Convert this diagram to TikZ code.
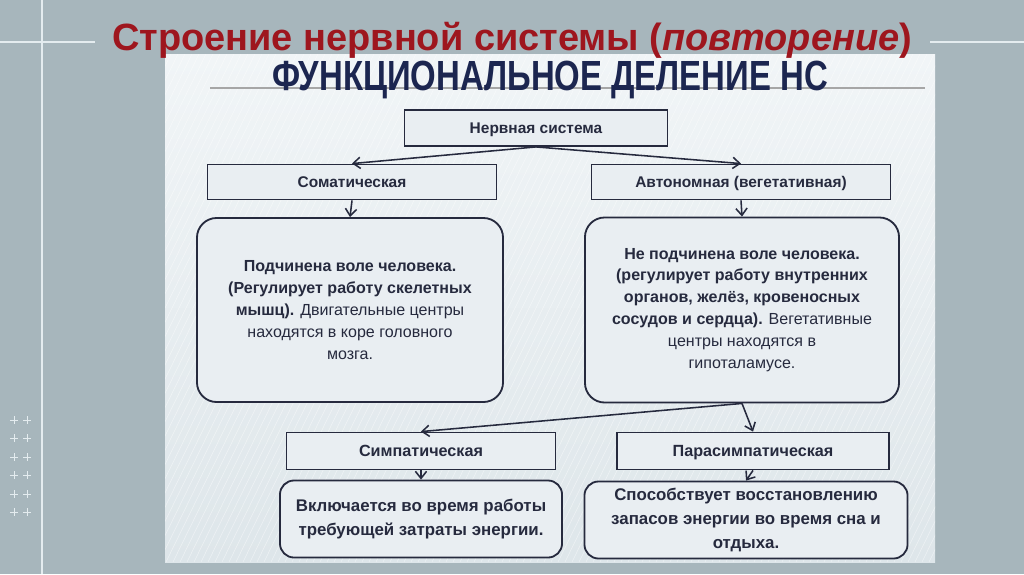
\documentclass[tikz,border=0pt]{standalone}
\usepackage{fontspec}
\setmainfont{Liberation Sans}
\usepackage{tikz}
\usetikzlibrary{arrows.meta, positioning, calc}
\definecolor{slidebg}{RGB}{167, 182, 188}
\definecolor{panel}{RGB}{222, 230, 234}
\definecolor{panellite}{RGB}{241, 245, 247}
\definecolor{titlered}{RGB}{158, 22, 30}
\definecolor{navy}{RGB}{28, 38, 80}
\definecolor{ink}{RGB}{38, 42, 62}
\definecolor{boxfill}{RGB}{233, 238, 242}
\definecolor{rulewhite}{RGB}{228, 236, 239}

\begin{document}
\begin{tikzpicture}[x=0.025cm, y=-0.025cm,
  hd/.style={rectangle, draw=ink, line width=1.3pt, fill=boxfill,
    font=\fontsize{11pt}{13pt}\selectfont\bfseries, text=ink,
    minimum height=0.875cm, inner sep=2pt, text height=1.9ex, text depth=0.55ex},
  txt/.style={rectangle, rounded corners=14pt, draw=ink, line width=1.3pt,
    fill=boxfill, font=\fontsize{11.4pt}{15.6pt}\selectfont, text=ink,
    align=center, inner sep=2pt},
  arr/.style={-{Straight Barb[length=5pt, width=8pt]}, line width=1.1pt, color=ink},
  deco/.style={draw=rulewhite, line width=1.2pt}
]
\useasboundingbox (0,0) rectangle (1024,574);
\fill[slidebg] (0,0) rectangle (1024,574);
\draw[deco] (42,0) -- (42,574);
\draw[deco] (0,42) -- (95,42);
\draw[deco] (930,42) -- (1024,42);
\foreach \yy in {420,438,457,475,494,512}
  \foreach \xx in {14,27}
    \draw[deco, line width=0.7pt] (\xx-4,\yy) -- (\xx+4,\yy) (\xx,\yy-4) -- (\xx,\yy+4);

% panel
\fill[top color=panellite, bottom color=panel] (165,54) rectangle (935,562);
\begin{scope}
  \clip (165,54) rectangle (935,562);
  \foreach \i in {-300,-293,...,800}
    \draw[white, opacity=0.45, line width=0.4pt] (165+\i,562) -- (415+\i,54);
\end{scope}
\draw[gray!70, line width=0.8pt] (210,88) -- (925,88);

\node[font=\fontsize{27pt}{32pt}\selectfont\bfseries, text=titlered]
  at (512,40) (title) {Строение нервной системы (\textit{повторение})};
\node[font=\fontsize{30pt}{34pt}\selectfont\bfseries, text=navy]
  at (550,80) (sub) {\scalebox{0.78}[1]{ФУНКЦИОНАЛЬНОЕ ДЕЛЕНИЕ НС}};

\node[hd, minimum width=6.575cm, minimum height=0.9cm] at (536,128) (ns) {Нервная система};
\node[hd, minimum width=7.225cm] at (352,182) (soma) {Соматическая};
\node[hd, minimum width=7.475cm] at (741,182) (auto) {Автономная (вегетативная)};

\node[txt, minimum width=7.65cm, minimum height=4.6cm] at (350,310) (somainfo)
  {\textbf{Подчинена воле человека.}\\
   \textbf{(Регулирует работу скелетных}\\
   \textbf{мышц).} Двигательные центры\\
   находятся в коре головного\\
   мозга.};
\node[txt, minimum width=7.85cm, minimum height=4.625cm] at (742,310) (autoinfo)
  {\textbf{Не подчинена воле человека.}\\
   \textbf{(регулирует работу внутренних}\\
   \textbf{органов, желёз, кровеносных}\\
   \textbf{сосудов и сердца).} Вегетативные\\
   центры находятся в\\
   гипоталамусе.};

\node[hd, minimum width=6.725cm, minimum height=0.925cm,
      font=\fontsize{11.5pt}{13pt}\selectfont\bfseries] at (421,451) (symp) {Симпатическая};
\node[hd, minimum width=6.8cm, minimum height=0.925cm,
      font=\fontsize{11.5pt}{13pt}\selectfont\bfseries] at (753,451) (para) {Парасимпатическая};

\node[txt, rounded corners=10pt, minimum width=7.05cm, minimum height=1.925cm,
      font=\fontsize{12pt}{17pt}\selectfont\bfseries] at (421,519) (sympinfo)
  {Включается во время работы\\ требующей затраты энергии.};
\node[txt, rounded corners=10pt, minimum width=8.075cm, minimum height=1.925cm,
      inner sep=1pt, font=\fontsize{12pt}{17pt}\selectfont\bfseries] at (746,520) (parainfo)
  {Способствует восстановлению\\ запасов энергии во время сна и\\ отдыха.};

\draw[arr] (ns.south) -- (soma.north);
\draw[arr] (ns.south) -- (auto.north);
\draw[arr] (soma.south) -- (somainfo.north);
\draw[arr] (auto.south) -- (autoinfo.north);
\draw[arr] (autoinfo.south) -- (symp.north);
\draw[arr] (autoinfo.south) -- (para.north);
\draw[arr] (symp.south) -- (sympinfo.north);
\draw[arr] (para.south) -- (parainfo.north);
\end{tikzpicture}
\end{document}
